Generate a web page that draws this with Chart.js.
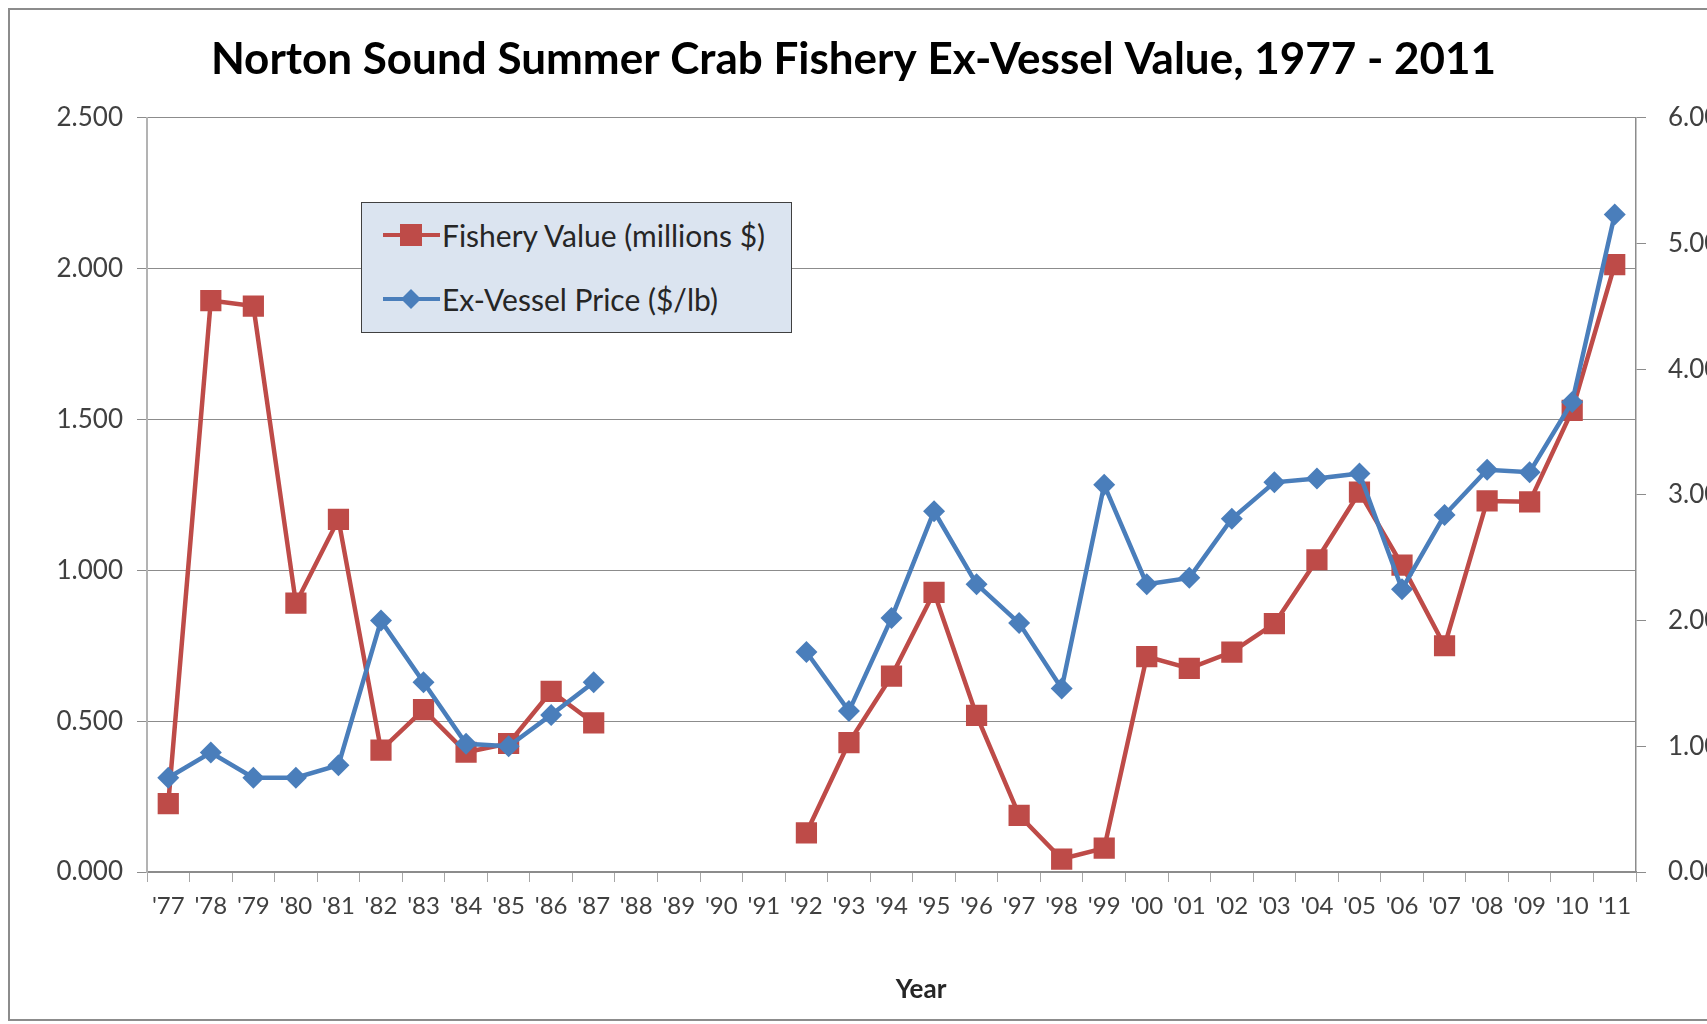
<!DOCTYPE html>
<html>
<head>
<meta charset="utf-8">
<script src="https://cdn.jsdelivr.net/npm/chart.js@4.4.0/dist/chart.umd.min.js"></script>
<style>
  html, body { margin: 0; padding: 0; background: #fff; overflow: hidden; }
  #wrap { position: relative; width: 1707px; height: 1024px; overflow: hidden; }
  #frame { position: absolute; left: 8px; top: 8px; width: 1760px; height: 1013px;
           border: 2px solid #8c8c8c; border-right: none; box-sizing: border-box; }
  #c { position: absolute; left: 0; top: 0; }
  #legend { position: absolute; left: 361px; top: 202px; width: 431px; height: 131px;
            box-sizing: border-box; background: #dbe4f0; border: 1.5px solid #404040;
            font-family: Lato, "Open Sans", sans-serif; font-size: 30px; color: #262626; }
  .row { position: absolute; left: 21px; display: flex; align-items: center; height: 34px; }
  .row svg { margin-right: 2px; }
  #xtitle { position: absolute; left: 821px; width: 200px; top: 972px; text-align: center;
            font-family: Lato, "Open Sans", sans-serif; font-size: 26px; font-weight: bold; color: #262626; }
</style>
</head>
<body>
<div id="wrap">
  <div id="frame"></div>
  <canvas id="c" width="1707" height="1024"></canvas>
  <div id="legend"></div>
  <div id="xtitle">Year</div>
</div>
<script>
// ── data ─────────────────────────────────────────────────────────────
const YEARS = ["'77", "'78", "'79", "'80", "'81", "'82", "'83", "'84", "'85", "'86",
  "'87", "'88", "'89", "'90", "'91", "'92", "'93", "'94", "'95", "'96", "'97", "'98",
  "'99", "'00", "'01", "'02", "'03", "'04", "'05", "'06", "'07", "'08", "'09", "'10", "'11"];

// millions $, left axis
const FISHERY_VALUE = [0.227, 1.894, 1.876, 0.891, 1.169, 0.404, 0.538, 0.397, 0.426, 0.599,
  0.494, null, null, null, null, 0.130, 0.429, 0.649, 0.927, 0.519, 0.188, 0.043,
  0.079, 0.714, 0.675, 0.729, 0.823, 1.035, 1.259, 1.017, 0.750, 1.230, 1.227, 1.530, 2.013];

// $/lb, right axis
const PRICE = [0.75, 0.95, 0.75, 0.75, 0.85, 2.00, 1.51, 1.02, 1.00, 1.25,
  1.51, null, null, null, null, 1.75, 1.28, 2.02, 2.87, 2.29, 1.98, 1.46,
  3.08, 2.29, 2.34, 2.81, 3.10, 3.13, 3.17, 2.25, 2.84, 3.20, 3.18, 3.74, 5.23];

const LEFT_TICKS = [0, 2.5, 0.5];   // min, max, step
const RIGHT_TICKS = [0, 6, 1];

const RED = "#be4b48";
const BLUE = "#4a7ebb";
const FONT = "Lato, 'Open Sans', sans-serif";
const TXT = "#404040";

// ── legend (html) ────────────────────────────────────────────────────
const LEGEND = [
  { label: "Fishery Value (millions $)", color: RED, shape: "rect", top: 15 },
  { label: "Ex-Vessel Price ($/lb)", color: BLUE, shape: "diamond", top: 79 },
];
document.getElementById("legend").innerHTML = LEGEND.map((l) => {
  const mk = l.shape === "rect"
    ? `<rect x="17" y="6" width="22" height="22" fill="${l.color}"/>`
    : `<polygon points="28,7 38,17 28,27 18,17" fill="${l.color}"/>`;
  return `<div class="row" style="top:${l.top}px">
    <svg width="57" height="34"><line x1="0" y1="17" x2="57" y2="17" stroke="${l.color}" stroke-width="4"/>${mk}</svg>
    <span>${l.label}</span></div>`;
}).join("");

// ── chart ────────────────────────────────────────────────────────────
new Chart(document.getElementById("c"), {
  type: "line",
  data: {
    labels: YEARS,
    datasets: [
      {
        label: "Fishery Value (millions $)",
        data: FISHERY_VALUE,
        yAxisID: "y",
        borderColor: RED,
        backgroundColor: RED,
        borderWidth: 4.5,
        pointStyle: "rect",
        pointRadius: 15,
        pointBorderWidth: 0,
        spanGaps: false,
        order: 1,
      },
      {
        label: "Ex-Vessel Price ($/lb)",
        data: PRICE,
        yAxisID: "y2",
        borderColor: BLUE,
        backgroundColor: BLUE,
        borderWidth: 4.5,
        pointStyle: "rectRot",
        pointRadius: 11,
        pointBorderWidth: 0,
        spanGaps: false,
        order: 0,
      },
    ],
  },
  options: {
    responsive: false,
    animation: false,
    layout: { padding: 0 },
    plugins: {
      legend: { display: false },
      tooltip: { enabled: false },
      title: {
        display: true,
        text: "Norton Sound Summer Crab Fishery Ex-Vessel Value, 1977 - 2011",
        color: "#000",
        font: { family: FONT, size: 44, weight: "bold" },
        padding: { top: 33, bottom: 32 },
      },
    },
    scales: {
      x: {
        offset: true,
        grid: { drawOnChartArea: false, drawTicks: true, tickLength: 10, color: "#a6a6a6", offset: true },
        border: { color: "#8c8c8c", width: 1.5 },
        ticks: { color: TXT, font: { family: FONT, size: 24 }, padding: 10, maxRotation: 0, autoSkip: false },
        afterFit: (s) => { s.height = 152; },
      },
      y: {
        position: "left",
        min: LEFT_TICKS[0],
        max: LEFT_TICKS[1],
        grid: { color: "#8c8c8c", lineWidth: 1, tickLength: 10 },
        border: { color: "#b3b3b3", width: 2 },
        ticks: {
          stepSize: LEFT_TICKS[2],
          color: TXT,
          padding: 14,
          font: { family: FONT, size: 26 },
          callback: (v) => Number(v).toFixed(3),
        },
        afterFit: (s) => { s.width = 147; },
      },
      y2: {
        position: "right",
        min: RIGHT_TICKS[0],
        max: RIGHT_TICKS[1],
        grid: { drawOnChartArea: false, color: "#8c8c8c", tickLength: 10 },
        border: { color: "#8c8c8c", width: 1.5 },
        ticks: {
          stepSize: RIGHT_TICKS[2],
          color: TXT,
          padding: 22,
          font: { family: FONT, size: 26 },
          callback: (v) => Number(v).toFixed(2),
        },
        afterFit: (s) => { s.width = 71; },
      },
    },
  },
});
</script>
</body>
</html>
